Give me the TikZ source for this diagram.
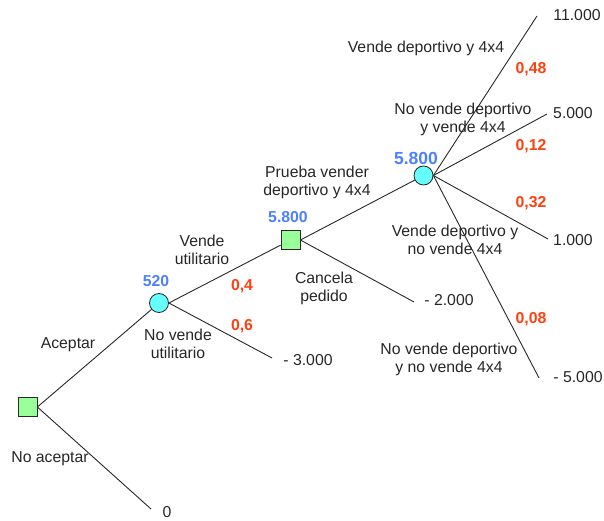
\documentclass[tikz,border=0pt]{standalone}
\usepackage{fontspec}
\setmainfont{Liberation Sans}
\definecolor{sqgreen}{RGB}{153,255,153}
\definecolor{circcyan}{RGB}{102,255,255}
\definecolor{valblue}{RGB}{77,128,255}
\definecolor{probred}{RGB}{255,64,16}
\definecolor{linegray}{RGB}{40,40,40}
\begin{document}
\begin{tikzpicture}[x=1pt,y=-1pt,
  decision/.style={draw=linegray,line width=0.8pt,fill=sqgreen,minimum size=19pt,inner sep=0pt},
  chance/.style={circle,draw=linegray,line width=0.8pt,fill=circcyan,minimum size=19pt,inner sep=0pt},
  branch/.style={draw=linegray,line width=0.9pt},
  lbl/.style={font=\fontsize{15.8}{18}\selectfont,text=black!85,align=center,inner sep=0pt},
  prob/.style={font=\fontsize{15.8}{18}\selectfont\bfseries,text=probred,inner sep=0pt},
  ev/.style={font=\fontsize{15.8}{18}\selectfont\bfseries,text=valblue,inner sep=0pt},
  evbig/.style={font=\fontsize{17.5}{20}\selectfont\bfseries,text=valblue,inner sep=0pt}]
\useasboundingbox (0,0) rectangle (604,521);
% end points
\coordinate (e0) at (151,509);
\coordinate (e3) at (272,358);
\coordinate (e2) at (414,302);
\coordinate (e11) at (537,16);
\coordinate (e5) at (547,114);
\coordinate (e1) at (548,239);
\coordinate (em5) at (539,378);
% nodes
\node[decision] (sq1) at (27.5,407) {};
\node[chance] (c1) at (159,303) {};
\node[decision] (sq2) at (290.5,240) {};
\node[chance] (c2) at (423.5,175.5) {};
% branches
\draw[branch] (sq1.east) -- (c1);
\draw[branch] (sq1.east) -- (e0);
\draw[branch] (c1.east) -- (sq2);
\draw[branch] (c1.east) -- (e3);
\draw[branch] (sq2.east) -- (c2);
\draw[branch] (sq2.east) -- (e2);
\draw[branch] (c2.east) -- (e11);
\draw[branch] (c2.east) -- (e5);
\draw[branch] (c2.east) -- (e1);
\draw[branch] (c2.east) -- (em5);
% labels
\node[lbl] (tAcep) at (68,345) {Aceptar};
\node[lbl] (tNoAcep) at (50,459) {No aceptar};
\node[lbl] (v0) at (167,512.5) {0};
\node[ev] (ev1) at (156,281) {520};
\node[lbl] (tVU) at (202,249.5) {Vende\\utilitario};
\node[lbl] (tNVU) at (178,343.5) {No vende\\utilitario};
\node[prob] (p04) at (242,286) {0,4};
\node[prob] (p06) at (242,326) {0,6};
\node[lbl] (vm3) at (308,360) {- 3.000};
\node[ev] (ev2) at (288,217) {5.800};
\node[lbl] (tPrueba) at (317,182.5) {Prueba vender\\deportivo y 4x4};
\node[lbl] (tCancela) at (324,288) {Cancela\\pedido};
\node[lbl] (vm2) at (449,300) {- 2.000};
\node[evbig] (ev3) at (416,158) {5.800};
\node[lbl] (tVDV) at (426,48) {Vende deportivo y 4x4};
\node[prob] (p48) at (531,69) {0,48};
\node[lbl] (tNDV) at (463,119) {No vende deportivo\\y vende 4x4};
\node[prob] (p12) at (531,146) {0,12};
\node[prob] (p32) at (531,203) {0,32};
\node[lbl] (tVDN) at (455,240) {Vende deportivo y\\no vende 4x4};
\node[prob] (p08) at (531,319) {0,08};
\node[lbl] (tNDN) at (449,359) {No vende deportivo\\y no vende 4x4};
\node[lbl] (v11) at (577,15) {11.000};
\node[lbl] (v5) at (573,113) {5.000};
\node[lbl] (v1) at (573,240) {1.000};
\node[lbl] (vm5) at (578,377) {- 5.000};
\end{tikzpicture}
\end{document}
